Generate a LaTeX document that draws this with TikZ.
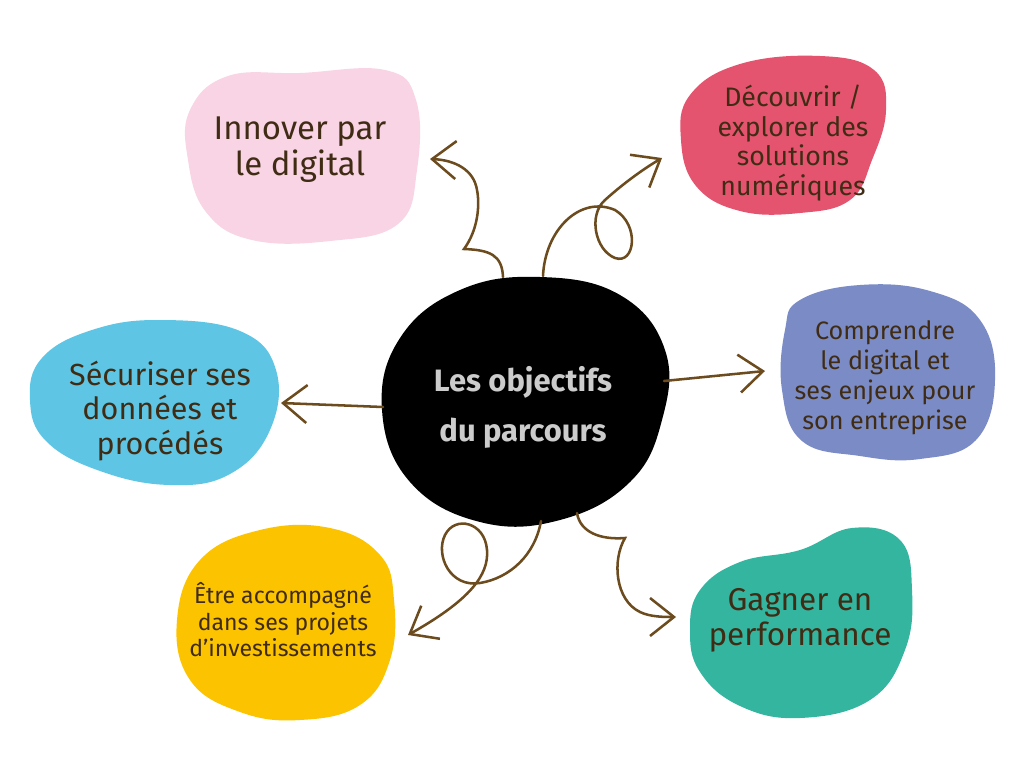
\documentclass[tikz,border=0pt]{standalone}
\usepackage{fontspec}
\setmainfont{Fira Sans}
\usetikzlibrary{arrows.meta}

\definecolor{blobpink}{HTML}{F8D4E4}
\definecolor{blobred}{HTML}{E4546E}
\definecolor{blobpurple}{HTML}{7A8BC5}
\definecolor{blobblue}{HTML}{5EC6E4}
\definecolor{blobyellow}{HTML}{FCC400}
\definecolor{blobteal}{HTML}{34B5A0}
\definecolor{inkbrown}{HTML}{402C14}
\definecolor{arrowbrown}{HTML}{6C4C1E}

\begin{document}
\begin{tikzpicture}[x=0.025cm, y=-0.025cm,
    arr/.style={draw=arrowbrown, line width=1.8pt, line cap=round,
                -{Straight Barb[length=17pt, width=27pt, line width=1.8pt]}},
    txt/.style={text=inkbrown, align=center, inner sep=0pt}]
  \fill[white] (0,0) rectangle (1024,768);
  \useasboundingbox (0,0) rectangle (1024,768);

  % blobs
  \fill[blobpink] plot[smooth cycle, tension=0.7] coordinates
    {(190,110) (228,76) (300,73) (385,70) (416,100) (417,170) (398,224)
     (330,241) (252,240) (206,212) (188,160)};
  \fill[blobred] plot[smooth cycle, tension=0.7] coordinates
    {(690,95) (740,64) (820,56) (874,70) (886,110) (872,160) (850,200)
     (800,213) (740,211) (696,186) (681,140)};
  \fill[blobpurple] plot[smooth cycle, tension=0.7] coordinates
    {(800,300) (860,285) (930,291) (980,320) (995,380) (976,440)
     (920,459) (860,456) (802,441) (782,390) (785,330)};
  \fill[blobblue] plot[smooth cycle, tension=0.7] coordinates
    {(42,358) (92,330) (160,320) (240,331) (276,370) (270,430) (230,474)
     (170,485) (100,471) (46,441) (30,400)};
  \fill[blobyellow] plot[smooth cycle, tension=0.7] coordinates
    {(200,560) (260,530) (330,528) (380,555) (394,600) (390,660)
     (360,705) (300,720) (240,712) (190,680) (177,620)};
  \fill[blobteal] plot[smooth cycle, tension=0.7] coordinates
    {(700,590) (740,562) (800,550) (852,528) (900,540) (912,590)
     (905,650) (870,700) (800,718) (740,706) (700,672) (690,630)};
  \fill[black] plot[smooth cycle, tension=0.7] coordinates
    {(400,338) (460,290) (540,277) (620,295) (665,350) (662,420)
     (630,482) (560,520) (480,522) (410,482) (382,410)};

  % texts
  \node[txt, font=\fontsize{22}{35.5}\selectfont\bfseries, text=black!20]
    (center) at (523,407) {Les objectifs\\du parcours};
  \node[txt, font=\fontsize{23.4}{25.6}\selectfont] (digital) at (300,150)
    {Innover par\\le digital};
  \node[txt, font=\fontsize{19}{21}\selectfont] (discover) at (793,143)
    {Découvrir /\\explorer des\\solutions\\numériques};
  \node[txt, font=\fontsize{17.9}{21.3}\selectfont] (understand) at (885,378)
    {Comprendre\\le digital et\\ses enjeux pour\\son entreprise};
  \node[txt, font=\fontsize{21.7}{24.5}\selectfont] (secure) at (160,411)
    {Sécuriser ses\\données et\\procédés};
  \node[txt, font=\fontsize{16.4}{18.8}\selectfont] (support) at (283,620)
    {Être accompagné\\dans ses projets\\d’investissements};
  \node[txt, font=\fontsize{22.4}{25}\selectfont] (perform) at (800,620)
    {Gagner en\\performance};

  % arrow ends
  \coordinate (s1) at (503,277);  \coordinate (t1) at (430,159);
  \coordinate (s2) at (543,276);  \coordinate (t2) at (662,158);
  \coordinate (s3) at (664,381);  \coordinate (t3) at (765,371);
  \coordinate (s4) at (383,407);  \coordinate (t4) at (281,403);
  \coordinate (s5) at (541,521);  \coordinate (t5) at (408,635);
  \coordinate (s6) at (577,513);  \coordinate (t6) at (676,617);

  % arrows
  \draw[arr] (s1) .. controls (502,255) and (490,250) .. (464,249)
    .. controls (478,230) and (480,205) .. (477,190)
    .. controls (474,170) and (455,160) .. (t1);
  \draw[arr] (s2) .. controls (545,230) and (580,195) .. (615,210)
    .. controls (640,225) and (635,265) .. (615,258)
    .. controls (595,250) and (588,215) .. (605,200)
    .. controls (625,182) and (645,168) .. (t2);
  \draw[arr] (s3) -- (t3);
  \draw[arr] (s4) -- (t4);
  \draw[arr] (s5) .. controls (535,555) and (510,578) .. (480,583)
    .. controls (450,588) and (435,555) .. (445,535)
    .. controls (455,515) and (485,522) .. (487,550)
    .. controls (489,575) and (470,600) .. (t5);
  \draw[arr] (s6) .. controls (580,532) and (600,540) .. (625,538)
    .. controls (612,560) and (615,600) .. (640,612)
    .. controls (650,617) and (665,617) .. (t6);
\end{tikzpicture}
\end{document}
